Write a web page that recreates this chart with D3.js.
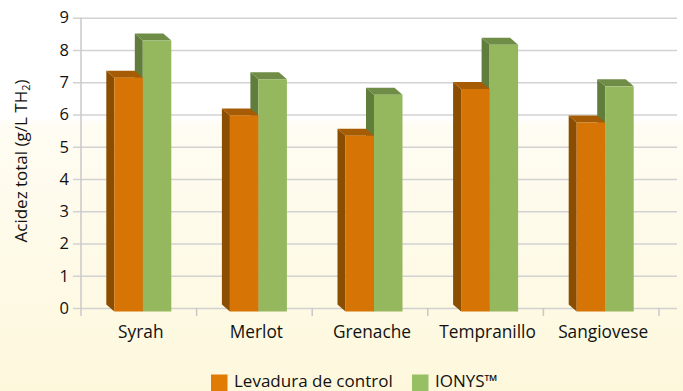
<!DOCTYPE html>
<html>
<head>
<meta charset="utf-8">
<script src="https://cdn.jsdelivr.net/npm/d3@7/dist/d3.min.js"></script>
<style>
  html, body { margin: 0; padding: 0; }
  body { width: 683px; height: 391px; overflow: hidden; }
  text { font-family: "Open Sans", "Noto Sans", sans-serif; fill: #111; }
</style>
</head>
<body>
<svg id="chart" width="683" height="391"></svg>
<script>
// Total acidity per grape variety, control yeast vs IONYS™
const categories = ["Syrah", "Merlot", "Grenache", "Tempranillo", "Sangiovese"];
const seriesNames = ["Levadura de control", "IONYS™"];
const controlValues = [7.25, 6.08, 5.45, 6.9, 5.86];
const ionysValues = [8.4, 7.2, 6.72, 8.27, 6.98];
const yTicks = [0, 1, 2, 3, 4, 5, 6, 7, 8, 9];

const W = 683, H = 391;
const margin = { left: 81, right: 24, top: 18, bottom: 83 };
const depthX = 8, depthY = 7;

const svg = d3.select("#chart");

// background wash: white at the top fading to pale yellow
const defs = svg.append("defs");
const grad = defs.append("linearGradient").attr("id", "bg")
  .attr("x1", 0).attr("y1", 0).attr("x2", 0).attr("y2", 1);
grad.append("stop").attr("offset", "0%").attr("stop-color", "#ffffff");
grad.append("stop").attr("offset", "30%").attr("stop-color", "#ffffff");
grad.append("stop").attr("offset", "32%").attr("stop-color", "#fffcf3");
grad.append("stop").attr("offset", "100%").attr("stop-color", "#fdf8dc");
svg.append("rect").attr("width", W).attr("height", H).attr("fill", "url(#bg)");

const x = d3.scaleBand().domain(categories)
  .range([margin.left, 659]).paddingInner(0).paddingOuter(0);
const y = d3.scaleLinear().domain([0, 9]).range([308, 17.7]);

const inner = d3.scaleBand().domain([0, 1]).range([0, 57]).padding(0);

// horizontal gridlines and y tick labels
const yAxis = d3.axisLeft(y).tickValues(yTicks).tickSize(-(677 - margin.left)).tickPadding(12)
  .tickFormat(d3.format("d"));
const gy = svg.append("g").attr("transform", `translate(${margin.left},0)`).call(yAxis);
gy.select(".domain").remove();
gy.selectAll(".tick line").attr("stroke", "#d2d2d2").attr("stroke-width", 1.5)
  .attr("x1", -8);
gy.selectAll(".tick text").attr("font-size", 16.5).attr("fill", "#111")
  .style("font-family", "'Open Sans', sans-serif");

// vertical axis line
svg.append("line").attr("x1", margin.left).attr("x2", margin.left)
  .attr("y1", y(9)).attr("y2", 316)
  .attr("stroke", "#c8c8c8").attr("stroke-width", 1.5);

// category tick marks on the baseline
const boundaries = categories.map(c => x(c) + x.bandwidth());
svg.append("g").selectAll("line").data(boundaries).join("line")
  .attr("x1", d => d).attr("x2", d => d)
  .attr("y1", y(0)).attr("y2", 316)
  .attr("stroke", "#c8c8c8").attr("stroke-width", 1.5);

const palettes = [
  { front: "#d67405", side: "#8b4d00", top: "#a65c04" },
  { front: "#95b75e", side: "#617d3c", top: "#6f8d47" }
];

const rows = categories.map((c, i) => ({ cat: c, vals: [controlValues[i], ionysValues[i]] }));

function bar3d(g, x0, w, v, pal) {
  const yF = y(v) + depthY / 2, yB = y(v) - depthY / 2;
  const bF = y(0) + depthY / 2, bB = y(0) - depthY / 2;
  const fx = x0 + depthX / 2, bx = x0 - depthX / 2;
  // left side face
  g.append("path").attr("fill", pal.side)
    .attr("d", `M${fx},${yF}L${bx},${yB}L${bx},${bB}L${fx},${bF}Z`);
  // top face
  g.append("path").attr("fill", pal.top)
    .attr("d", `M${fx},${yF}L${bx},${yB}L${bx + w},${yB}L${fx + w},${yF}Z`);
  // front face
  g.append("rect").attr("fill", pal.front)
    .attr("x", fx).attr("y", yF).attr("width", w).attr("height", bF - yF);
}

const bars = svg.append("g");
rows.forEach(r => {
  const start = x(r.cat) + (x.bandwidth() - inner.range()[1]) / 2;
  // draw the right-hand bar first so the left one covers its side face
  [1, 0].forEach(k => {
    bar3d(bars.append("g"), start + inner(k), inner.bandwidth(), r.vals[k], palettes[k]);
  });
});

// category labels
svg.append("g").selectAll("text").data(categories).join("text")
  .attr("x", d => x(d) + x.bandwidth() / 2 + 2).attr("y", 338)
  .attr("text-anchor", "middle").attr("font-size", 17.3).text(d => d);

// y-axis title
const title = svg.append("text")
  .attr("transform", "translate(27,161) rotate(-90)")
  .attr("text-anchor", "middle").attr("font-size", 17);
title.append("tspan").text("Acidez total (g/L TH");
title.append("tspan").attr("font-size", 11).attr("dy", 3).text("2");
title.append("tspan").attr("dy", -3).text(")");

// legend
const legendX = [211, 412];
const lg = svg.append("g");
seriesNames.forEach((name, i) => {
  lg.append("rect").attr("x", legendX[i]).attr("y", 374.5).attr("width", 16.5).attr("height", 16.5)
    .attr("fill", i === 0 ? "#e07b05" : "#97c065");
  lg.append("text").attr("x", legendX[i] + 23).attr("y", 387)
    .attr("font-size", 17).text(name);
});
</script>
</body>
</html>
